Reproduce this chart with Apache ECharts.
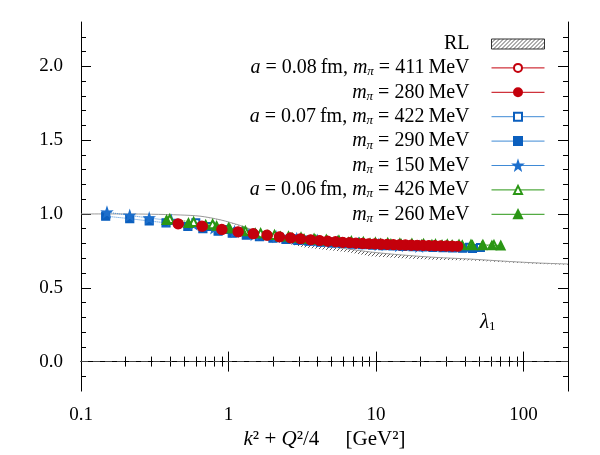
<!DOCTYPE html>
<html>
<head>
<meta charset="utf-8">
<script src="https://cdn.jsdelivr.net/npm/echarts@6/dist/echarts.min.js"></script>
<style>
  html, body { margin: 0; padding: 0; background: #fff; }
  #chart { width: 600px; height: 455px; }
</style>
</head>
<body>
<div id="chart"></div>
<script>
// values (lambda_1 vs k^2 + Q^2/4)

const xMajorTicks = [0.1, 1, 10, 100];
const xMinorTicks = [0.2, 0.3, 0.4, 0.5, 0.6, 0.7, 0.8, 0.9, 2, 3, 4, 5, 6, 7, 8, 9, 20, 30, 40, 50, 60, 70, 80, 90];
const yMajorTicks = [0, 0.5, 1, 1.5, 2];
const yMinorTicks = [-0.1, 0.1, 0.2, 0.3, 0.4, 0.6, 0.7, 0.8, 0.9, 1.1, 1.2, 1.3, 1.4, 1.6, 1.7, 1.8, 1.9, 2.1, 2.2];

// RL band (upper / lower edge)
const rlX     = [0.1, 0.2, 0.3, 0.47, 0.64, 0.88, 1.2, 1.4, 1.9, 2.5, 3.2, 4.5, 6.5, 9.2, 15, 25, 44, 80, 130, 200];
const rlUpper = [1.0, 1.0, 0.998, 0.993, 0.985, 0.96, 0.922, 0.898, 0.855, 0.826, 0.806, 0.782, 0.762, 0.742, 0.722, 0.706, 0.694, 0.678, 0.667, 0.661];
const rlLower = [1.0, 1.0, 0.998, 0.993, 0.985, 0.958, 0.918, 0.89, 0.84, 0.80, 0.775, 0.757, 0.74, 0.714, 0.699, 0.69, 0.684, 0.671, 0.661, 0.655];

// a = 0.08 fm (open circles sit under the filled ones)
const r411X = [0.46, 0.67, 0.91, 1.17, 1.49, 1.84, 2.23, 2.66, 3.1, 3.63, 4.18, 4.73, 5.37, 5.99, 6.67, 7.4, 8.2, 9.0, 9.9, 10.9, 12.0, 13.2, 14.6, 16.0, 17.5, 19.2, 21.0, 23.0, 25.3, 27.7, 30.3, 33.1];
const r411Y = [0.931, 0.915, 0.893, 0.877, 0.864, 0.854, 0.843, 0.836, 0.830, 0.823, 0.818, 0.814, 0.810, 0.806, 0.803, 0.800, 0.798, 0.796, 0.795, 0.793, 0.792, 0.790, 0.789, 0.788, 0.787, 0.786, 0.785, 0.784, 0.783, 0.782, 0.781, 0.780];
const r280X = [0.455, 0.66, 0.90, 1.16, 1.47, 1.82, 2.21, 2.63, 3.07, 3.6, 4.14, 4.69, 5.32, 5.93, 6.6, 7.3, 8.1, 8.9, 9.8, 10.8, 11.9, 13.1, 14.4, 15.8, 17.3, 19.0, 20.8, 22.8, 25.0, 27.4, 30.0, 32.8, 35.8];
const r280Y = [0.933, 0.917, 0.895, 0.879, 0.866, 0.856, 0.845, 0.838, 0.832, 0.825, 0.820, 0.816, 0.812, 0.808, 0.805, 0.802, 0.800, 0.798, 0.797, 0.795, 0.794, 0.792, 0.791, 0.790, 0.789, 0.788, 0.787, 0.786, 0.785, 0.784, 0.783, 0.782, 0.781];

// a = 0.07 fm
const b422X = [0.6, 0.75, 0.94, 1.15, 1.45, 1.8, 2.2, 2.7, 3.3, 4.0, 4.8, 5.8, 7.0, 8.4, 10.1, 12.1, 14.5, 17.4, 20.9, 25.0, 30.0, 36.0, 43.0, 51.0];
const b422Y = [0.94, 0.915, 0.895, 0.88, 0.866, 0.853, 0.842, 0.832, 0.824, 0.817, 0.811, 0.806, 0.801, 0.797, 0.793, 0.790, 0.787, 0.784, 0.782, 0.780, 0.778, 0.776, 0.774, 0.772];
const b290X = [0.147, 0.214, 0.29, 0.377, 0.53, 0.67, 0.85, 1.06, 1.32, 1.62, 2.0, 2.45, 2.95, 3.5, 4.2, 5.0, 5.9, 6.9, 8.1, 9.5, 11.1, 13.0, 15.2, 17.8, 20.8, 24.3, 28.4, 33.0, 38.5, 45.0];
const b290Y = [0.985, 0.968, 0.952, 0.940, 0.915, 0.900, 0.884, 0.870, 0.857, 0.846, 0.836, 0.828, 0.821, 0.815, 0.809, 0.804, 0.800, 0.796, 0.792, 0.789, 0.786, 0.783, 0.780, 0.778, 0.776, 0.774, 0.772, 0.770, 0.768, 0.766];
const b150X = [0.15, 0.214, 0.29, 0.41, 0.58, 0.8, 1.1, 1.5, 2.1, 2.9, 4.0, 5.5, 7.6, 10.4, 14.3, 19.6];
const b150Y = [1.012, 0.99, 0.972, 0.955, 0.93, 0.905, 0.88, 0.86, 0.845, 0.832, 0.82, 0.81, 0.80, 0.792, 0.785, 0.78];

// a = 0.06 fm
const g426X = [0.40, 0.58, 0.78, 1.0, 1.3, 1.65, 2.05, 2.55, 3.1, 3.8, 4.6, 5.6, 6.8, 8.2, 9.9, 12.0, 14.5, 17.5, 21.0, 25.3, 30.4, 36.5, 44.0, 53.0, 63.0];
const g426Y = [0.965, 0.945, 0.930, 0.905, 0.885, 0.870, 0.858, 0.848, 0.840, 0.832, 0.826, 0.820, 0.815, 0.810, 0.806, 0.803, 0.800, 0.798, 0.796, 0.794, 0.793, 0.792, 0.791, 0.790, 0.789];
const g260X = [0.38, 0.535, 0.70, 0.83, 1.02, 1.25, 1.52, 1.85, 2.25, 2.7, 3.25, 3.9, 4.65, 5.5, 6.5, 7.7, 9.1, 10.7, 12.6, 14.8, 17.4, 20.4, 23.9, 28.0, 32.8, 38.4, 45.0, 52.5, 61.0, 70.0];
const g260Y = [0.960, 0.940, 0.928, 0.920, 0.902, 0.884, 0.870, 0.858, 0.848, 0.840, 0.832, 0.826, 0.820, 0.815, 0.810, 0.806, 0.803, 0.800, 0.798, 0.796, 0.794, 0.793, 0.792, 0.791, 0.790, 0.789, 0.789, 0.788, 0.788, 0.787];

const legendOrder = ['RL', 'a08_411', 'a08_280', 'a07_422', 'a07_290', 'a07_150', 'a06_426', 'a06_260'];
const legendLabels = {
  RL: 'RL',
  a08_411: '{i|a}{n| = 0.08\u2009fm, }{i|m}{s|π}{n| = 411\u2009MeV}',
  a08_280: '{i|m}{s|π}{n| = 280\u2009MeV}',
  a07_422: '{i|a}{n| = 0.07\u2009fm, }{i|m}{s|π}{n| = 422\u2009MeV}',
  a07_290: '{i|m}{s|π}{n| = 290\u2009MeV}',
  a07_150: '{i|m}{s|π}{n| = 150\u2009MeV}',
  a06_426: '{i|a}{n| = 0.06\u2009fm, }{i|m}{s|π}{n| = 426\u2009MeV}',
  a06_260: '{i|m}{s|π}{n| = 260\u2009MeV}'
};

const FONT = '"Liberation Serif", "DejaVu Serif", serif';
const RED = '#c4000c';
const BLUE = '#0b5fbe';
const BLUE_LINE = '#3f8ad6';
const GREEN = '#2a9614';
const STAR = 'path://M50,0 L61.8,35.1 L98.1,34.5 L69.1,56.7 L79.4,91.5 L50,70.6 L20.6,91.5 L30.9,56.7 L1.9,34.5 L38.2,35.1 Z';

// hatch pattern for the RL band
function makeHatch() {
  const c = document.createElement('canvas');
  c.width = 4;
  c.height = 4;
  const ctx = c.getContext('2d');
  ctx.strokeStyle = '#333';
  ctx.lineWidth = 0.8;
  ctx.beginPath();
  ctx.moveTo(0, 4); ctx.lineTo(4, 0);
  ctx.moveTo(-1, 1); ctx.lineTo(1, -1);
  ctx.moveTo(3, 5); ctx.lineTo(5, 3);
  ctx.stroke();
  return { image: c, repeat: 'repeat' };
}
const hatch = makeHatch();

const pairs = (xs, ys) => xs.map((x, i) => [x, ys[i]]);

function pointSeries(name, xs, ys, symbol, size, color, lineColor) {
  return {
    name: name,
    type: 'line',
    data: pairs(xs, ys),
    symbol: symbol,
    symbolSize: size,
    showAllSymbol: true,
    itemStyle: { color: color, borderColor: color, borderWidth: 1.2 },
    lineStyle: { color: lineColor, width: 1, type: 'dotted' },
    emphasis: { disabled: true },
    z: 3
  };
}

const chart = echarts.init(document.getElementById('chart'), null, { renderer: 'canvas' });

const axisText = { fontFamily: FONT, fontSize: 19, color: '#000' };
const blackLine = { color: '#000', width: 1 };

function xAxisDef(pos, ticks, len, withLabels) {
  return {
    type: 'log', logBase: 10, min: 0.1, max: 200, position: pos,
    axisLine: { show: withLabels, lineStyle: blackLine },
    axisTick: { show: true, inside: true, length: len, customValues: ticks, lineStyle: blackLine },
    axisLabel: withLabels && pos === 'bottom'
      ? Object.assign({ show: true, customValues: ticks, margin: 14, formatter: (v) => String(v) }, axisText)
      : { show: false },
    splitLine: { show: false }
  };
}
function yAxisDef(pos, ticks, len, withLabels) {
  return {
    type: 'value', min: -0.2, max: 2.3, position: pos,
    axisLine: { show: withLabels, onZero: false, lineStyle: blackLine },
    axisTick: { show: true, inside: true, length: len, customValues: ticks, lineStyle: blackLine },
    axisLabel: withLabels && pos === 'left'
      ? Object.assign({ show: true, customValues: ticks, margin: 18, formatter: (v) => v.toFixed(1) }, axisText)
      : { show: false },
    splitLine: { show: false }
  };
}

const xMain = xAxisDef('bottom', xMajorTicks, 10, true);
xMain.name = '{i|k}{n|² + }{i|Q}{n|²/4     [GeV²]}';
xMain.nameLocation = 'middle';
xMain.nameGap = 32;
xMain.nameTextStyle = {
  fontFamily: FONT, fontSize: 21, color: '#000',
  rich: {
    i: { fontFamily: FONT, fontSize: 21, fontStyle: 'italic', color: '#000' },
    n: { fontFamily: FONT, fontSize: 21, color: '#000' }
  }
};

const series = [
  {
    // hatched RL band drawn as a polygon through the axes
    name: 'RL', type: 'custom', data: [[1, 1]], clip: true, silent: true, z: 1,
    renderItem: (params, api) => {
      const pts = [];
      rlX.forEach((x, i) => pts.push(api.coord([x, rlUpper[i]])));
      for (let i = rlX.length - 1; i >= 0; i--) pts.push(api.coord([rlX[i], rlLower[i]]));
      return { type: 'polygon', shape: { points: pts }, style: { fill: hatch, stroke: null } };
    }
  },
  {
    name: 'RL_line', type: 'line', data: pairs(rlX, rlUpper),
    symbol: 'none', smooth: 0.3,
    lineStyle: { color: '#9a9a9a', width: 1 },
    silent: true, z: 2
  },
  pointSeries('a07_422', b422X, b422Y, 'emptyRect', 7, BLUE, BLUE_LINE),
  pointSeries('a07_290', b290X, b290Y, 'rect', 8, BLUE, BLUE_LINE),
  pointSeries('a07_150', b150X, b150Y, STAR, 10, '#1d6fcc', BLUE_LINE),
  pointSeries('a06_426', g426X, g426Y, 'emptyTriangle', 8, GREEN, GREEN),
  pointSeries('a06_260', g260X, g260Y, 'triangle', 9, GREEN, GREEN),
  pointSeries('a08_411', r411X, r411Y, 'emptyCircle', 8, RED, RED),
  pointSeries('a08_280', r280X, r280Y, 'circle', 10, RED, RED)
];
// dashed zero line
series[3].markLine = {
  silent: true, symbol: 'none', animation: false,
  label: { show: false },
  lineStyle: { color: '#444', width: 1, type: [7, 5] },
  data: [{ yAxis: 0 }]
};

const option = {
  animation: false,
  backgroundColor: '#fff',
  grid: { left: 81, top: 22, right: 32, bottom: 63, containLabel: false },
  title: {
    text: '{l|λ}{s|1}',
    left: 475, top: 306,
    textStyle: {
      fontWeight: 'normal',
      rich: {
        l: { fontFamily: FONT, fontSize: 21, fontStyle: 'italic', fontWeight: 'normal', color: '#000' },
        s: { fontFamily: FONT, fontSize: 13, fontWeight: 'normal', color: '#000', padding: [9, 0, 0, 0] }
      }
    }
  },
  legend: {
    data: legendOrder.map((n) => n === 'RL'
      ? { name: 'RL', icon: 'rect', itemStyle: { color: hatch, borderColor: '#333', borderWidth: 1 } }
      : { name: n }),
    orient: 'vertical',
    align: 'right',
    right: 55, top: 34,
    padding: 0,
    itemWidth: 53, itemHeight: 10, itemGap: 3.4,
    selectedMode: false,
    lineStyle: { type: 'solid', width: 1 },
    formatter: (name) => legendLabels[name],
    textStyle: {
      fontFamily: FONT, fontSize: 20, color: '#000', lineHeight: 18,
      padding: [0, 17, 0, 0],
      rich: {
        i: { fontFamily: FONT, fontSize: 20, fontStyle: 'italic', color: '#000', lineHeight: 18 },
        n: { fontFamily: FONT, fontSize: 20, color: '#000', lineHeight: 18 },
        s: { fontFamily: FONT, fontSize: 13, fontStyle: 'italic', color: '#000', lineHeight: 18, padding: [8, 0, 0, 0] }
      }
    }
  },
  xAxis: [
    xMain,
    xAxisDef('bottom', xMinorTicks, 5, false),
    xAxisDef('top', xMajorTicks, 10, true),
    xAxisDef('top', xMinorTicks, 5, false)
  ],
  yAxis: [
    yAxisDef('left', yMajorTicks, 10, true),
    yAxisDef('left', yMinorTicks, 5, false),
    yAxisDef('right', yMajorTicks, 10, true),
    yAxisDef('right', yMinorTicks, 5, false)
  ],
  series: series
};

chart.setOption(option);
window.addEventListener('resize', () => chart.resize());
</script>
</body>
</html>
